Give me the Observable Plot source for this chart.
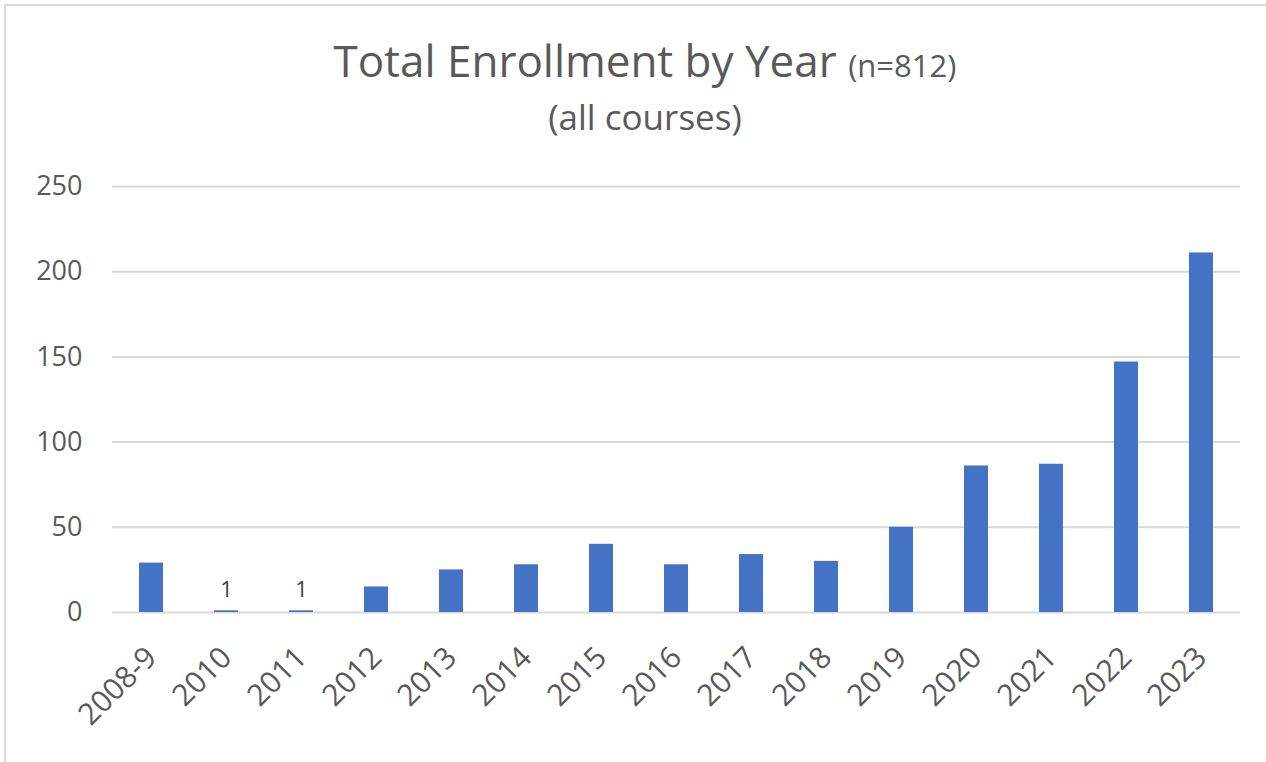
<!DOCTYPE html>
<html><head><meta charset="utf-8">
<script src="https://cdn.jsdelivr.net/npm/d3@7"></script>
<script src="https://cdn.jsdelivr.net/npm/@observablehq/plot@0.6"></script>
<style>
body{margin:0;background:#fff;font-family:"Open Sans",sans-serif;}
#wrap{position:relative;width:1266px;height:762px;overflow:hidden;}
#frame{position:absolute;left:4px;top:4px;width:1300px;height:800px;border-left:2px solid #d9d9d9;border-top:2px solid #d9d9d9;box-sizing:border-box;}
#title{position:absolute;left:0;width:1290px;top:32px;text-align:center;color:#595959;font-size:44px;line-height:56px;}
#title small{font-size:31px;}
#sub{position:absolute;left:0;width:1290px;top:94px;text-align:center;color:#595959;font-size:35px;line-height:46px;}
#chart{position:absolute;left:0;top:0;}
</style></head>
<body>
<div id="wrap">
<div id="frame"></div>
<div id="chart"></div>
<div id="title">Total Enrollment by Year <small>(n=812)</small></div>
<div id="sub">(all courses)</div>
</div>
<script>
const years = ["2008-9","2010","2011","2012","2013","2014","2015","2016","2017","2018","2019","2020","2021","2022","2023"];
const enrollment = [29,1,1,15,25,28,40,28,34,30,50,86,87,147,211];
const yTicks = [0,50,100,150,200,250];

const data = years.map((y,i)=>({year:y, value:enrollment[i]}));

const plot = Plot.plot({
  width:1266, height:762,
  marginTop:186, marginBottom:150, marginLeft:112, marginRight:26,
  style:{fontFamily:"Open Sans, sans-serif", fontSize:"27px", color:"#595959", background:"transparent"},
  x:{domain:years, paddingInner:0.68, paddingOuter:0.34, label:null},
  y:{domain:[0,250], label:null},
  marks:[
    Plot.ruleY(yTicks,{stroke:"#d9d9d9", strokeWidth:2}),
    Plot.barY(data,{x:"year", y:"value", fill:"#4472c4"}),
    Plot.text(data.filter(d=>d.value<5),{x:"year", y:"value", text:d=>String(d.value), dy:-21, fill:"#404040", fontSize:22}),
    Plot.axisY(yTicks,{tickSize:0, tickPadding:30, fill:"#595959", fontSize:27}),
    Plot.axisX({tickSize:0, tickPadding:40, tickRotate:-45, fill:"#595959", fontSize:30})
  ]
});
document.getElementById("chart").appendChild(plot);
</script>
</body></html>
